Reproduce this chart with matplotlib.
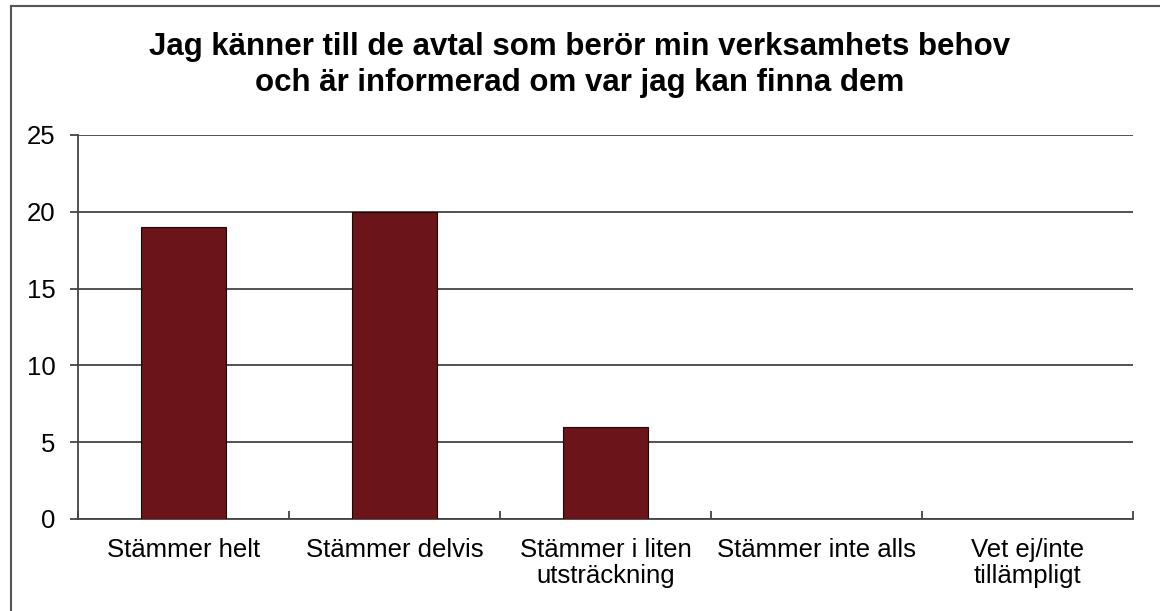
import matplotlib.pyplot as plt
from matplotlib.lines import Line2D

# Data
categories = ['Stämmer helt', 'Stämmer delvis', 'Stämmer i liten\nutsträckning',
              'Stämmer inte alls', 'Vet ej/inte\ntillämpligt']
values = [19, 20, 6, 0, 0]
yticks = [0, 5, 10, 15, 20, 25]
title = 'Jag känner till de avtal som berör min verksamhets behov\noch är informerad om var jag kan finna dem'

plt.rcParams['font.family'] = ['Liberation Sans', 'DejaVu Sans']

fig = plt.figure(figsize=(11.6, 6.11), dpi=100)
ax = fig.add_axes([78 / 1160, 1 - 519 / 611, (1133 - 78) / 1160, (519 - 135) / 611])

x = list(range(len(categories)))
ax.bar(x, values, width=0.4, color='#6b1419', edgecolor='#1a0a0a', linewidth=0.8, zorder=3)

ax.set_xlim(-0.5, len(categories) - 0.5)
ax.set_ylim(0, 25)
ax.set_yticks(yticks)
ax.set_yticklabels([str(v) for v in yticks], fontsize=18.5)
ax.yaxis.grid(True, color='#444444', linewidth=1.3, zorder=0)
ax.set_axisbelow(True)

# category ticks sit between bars
ax.set_xticks([i - 0.5 for i in range(len(categories) + 1)], minor=False)
ax.set_xticklabels([])
ax.set_xticks(x, minor=True)
ax.set_xticklabels(categories, minor=True, fontsize=18.5, linespacing=1.1)
ax.tick_params(axis='x', which='minor', length=0, pad=14)
ax.tick_params(axis='x', which='major', length=6, width=1.3, color='#444444', direction='in')
ax.tick_params(axis='y', length=6, width=1.3, color='#444444', pad=10)

for side in ['top', 'right']:
    ax.spines[side].set_visible(False)
for side in ['left', 'bottom']:
    ax.spines[side].set_color('#444444')
    ax.spines[side].set_linewidth(1.3)

fig.text(0.5, 1 - 65 / 611, title, ha='center', va='center', fontsize=22.5,
         fontweight='bold', linespacing=1.25)

# outer frame (top and left edges visible in the scan)
fig.add_artist(Line2D([11 / 1160, 1], [1 - 6 / 611, 1 - 6 / 611], color='#555555', lw=1.5))
fig.add_artist(Line2D([11 / 1160, 11 / 1160], [0, 1 - 6 / 611], color='#555555', lw=1.5))

fig.savefig('out.png', dpi=100)
